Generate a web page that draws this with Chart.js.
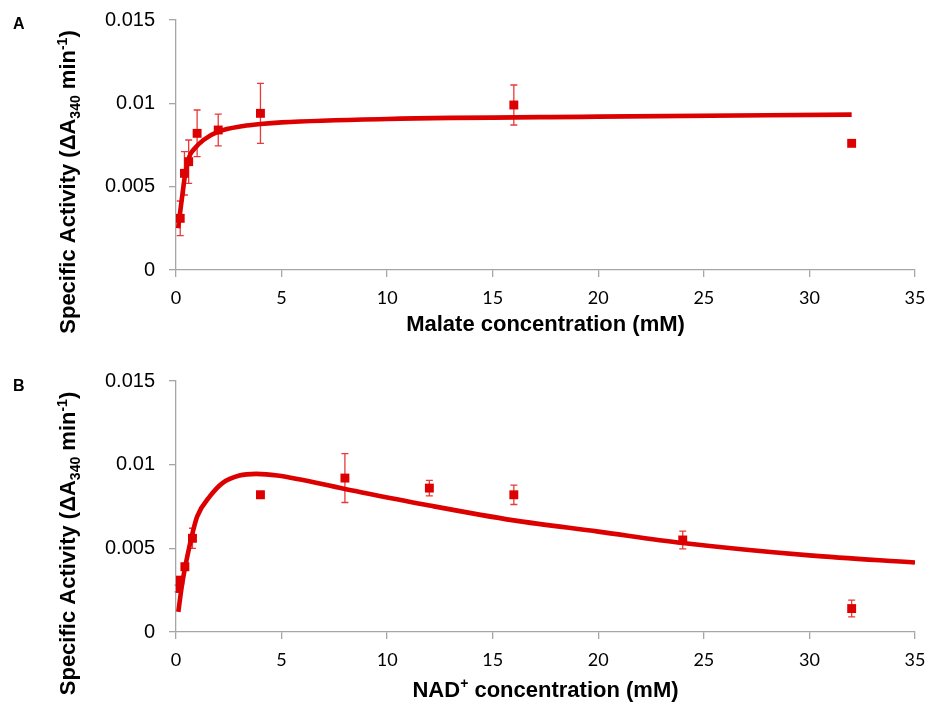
<!DOCTYPE html>
<html>
<head>
<meta charset="utf-8">
<script src="https://cdn.jsdelivr.net/npm/chart.js@4.4.1/dist/chart.umd.min.js"></script>
<style>
  html, body { margin: 0; padding: 0; background: #ffffff; }
  #wrap { position: relative; width: 930px; height: 707px; }
  #chart-a { position: absolute; left: 0; top: 0; }
  #chart-b { position: absolute; left: 0; top: 355px; }
</style>
</head>
<body>
<div id="wrap">
  <canvas id="chart-a" width="930" height="355"></canvas>
  <canvas id="chart-b" width="930" height="352"></canvas>
</div>
<script>
// panel A: malate
var malateConc = [0.2, 0.4, 0.6, 1, 2, 4, 16, 32];
var malateActivity = [0.0031, 0.0058, 0.0065, 0.0082, 0.0084, 0.0094, 0.0099, 0.0076];
var malateError = [0.00104, 0.0013, 0.0013, 0.0014, 0.00095, 0.0018, 0.0012, 0];
var malateFitX = [0.1, 0.27, 0.43, 0.63, 0.82, 1.3, 2, 3.2, 4, 5, 10, 20, 32];
var malateFitY = [0.0025, 0.0042, 0.0057, 0.0068, 0.0072, 0.0078, 0.0083, 0.00864, 0.00876, 0.00886, 0.00906, 0.0092, 0.00932];

// panel B: NAD+
var nadConc = [0.1, 0.18, 0.42, 0.78, 4, 8, 12, 16, 24, 32];
var nadActivity = [0.0026, 0.0031, 0.0039, 0.0056, 0.0082, 0.0092, 0.0086, 0.0082, 0.0055, 0.0014];
var nadError = [0.0002, 0.0002, 0.0002, 0.0006, 0.0002, 0.00146, 0.00046, 0.00058, 0.00053, 0.0005];
var nadFitX = [0.11, 0.27, 0.5, 0.82, 1.0, 1.6, 2.2, 3.0, 3.8, 4.8, 8, 12, 16, 20, 24, 30, 35];
var nadFitY = [0.0012, 0.0027, 0.0043, 0.0061, 0.0069, 0.0081, 0.0089, 0.00935, 0.00945, 0.00935, 0.00855, 0.00756, 0.00667, 0.006, 0.00532, 0.00458, 0.00415];

var xTickValues = [0, 5, 10, 15, 20, 25, 30, 35];
var yTickValues = [0, 0.005, 0.01, 0.015];
var yTickLabels = ["0", "0.005", "0.01", "0.015"];

var RED = "#dd0000";
var ERR = "#e83a3a";
var AXIS = "#a6a6a6";
var TITLE_FONT = "Liberation Sans, Arial, sans-serif";

var yTitleParts = [
  { text: "Specific Activity (\u0394A", size: 22 },
  { text: "340", size: 14, dy: 5 },
  { text: " min", size: 22 },
  { text: "-1", size: 14, dy: -8 },
  { text: ")", size: 22 }
];

function toPoints(xs, ys) {
  return xs.map(function (x, i) { return { x: x, y: ys[i] }; });
}

function drawParts(ctx, parts, cx, baseline) {
  var total = 0;
  parts.forEach(function (p) {
    ctx.font = "bold " + p.size + "px " + TITLE_FONT;
    p.w = ctx.measureText(p.text).width;
    total += p.w;
  });
  var x = cx - total / 2;
  parts.forEach(function (p) {
    ctx.font = "bold " + p.size + "px " + TITLE_FONT;
    ctx.fillText(p.text, x, baseline + (p.dy || 0));
    x += p.w;
  });
}

var decor = {
  id: "decor",
  beforeDatasetsDraw: function (chart, args, opts) {
    var ctx = chart.ctx;
    var xs = chart.scales.x, ys = chart.scales.y;
    ctx.save();
    ctx.strokeStyle = ERR;
    ctx.lineWidth = 1.3;
    opts.xs.forEach(function (xv, i) {
      var e = opts.err[i];
      if (!e) return;
      var px = xs.getPixelForValue(xv);
      var top = ys.getPixelForValue(opts.ys[i] + e);
      var bot = ys.getPixelForValue(opts.ys[i] - e);
      ctx.beginPath();
      ctx.moveTo(px, top); ctx.lineTo(px, bot);
      ctx.moveTo(px - 3.5, top); ctx.lineTo(px + 3.5, top);
      ctx.moveTo(px - 3.5, bot); ctx.lineTo(px + 3.5, bot);
      ctx.stroke();
    });
    ctx.restore();
  },
  afterDraw: function (chart, args, opts) {
    var ctx = chart.ctx;
    var area = chart.chartArea;
    ctx.save();
    ctx.fillStyle = "#000000";
    ctx.textBaseline = "alphabetic";
    ctx.textAlign = "left";
    // panel letter
    ctx.font = "bold 16px " + TITLE_FONT;
    ctx.fillText(opts.letter, 13, opts.letterY);
    // x title
    drawParts(ctx, opts.xTitle, (area.left + area.right) / 2, area.bottom + opts.xTitleGap);
    // y title, rotated
    ctx.translate(75, (area.top + area.bottom) / 2 + 37);
    ctx.rotate(-Math.PI / 2);
    drawParts(ctx, yTitleParts, 0, 0);
    ctx.restore();
  }
};

function makeChart(id, cfg) {
  return new Chart(document.getElementById(id), {
    data: {
      datasets: [{
        type: "scatter",
        data: toPoints(cfg.xs, cfg.ys),
        pointStyle: "rect",
        pointRadius: 6.3,
        pointBorderWidth: 0,
        backgroundColor: RED,
        borderColor: RED,
        showLine: false
      }, {
        type: "line",
        data: toPoints(cfg.fitX, cfg.fitY),
        borderColor: RED,
        borderWidth: 4.6,
        pointRadius: 0,
        fill: false,
        cubicInterpolationMode: "monotone"
      }]
    },
    options: {
      responsive: false,
      animation: false,
      events: [],
      layout: { padding: { top: cfg.top, right: 15, left: 0, bottom: 0 } },
      plugins: {
        legend: { display: false },
        tooltip: { enabled: false },
        decor: {
          xs: cfg.xs, ys: cfg.ys, err: cfg.err,
          letter: cfg.letter, letterY: cfg.letterY,
          xTitle: cfg.xTitle, xTitleGap: cfg.xTitleGap
        }
      },
      scales: {
        x: {
          type: "linear",
          min: 0,
          max: 35,
          afterBuildTicks: function (scale) {
            scale.ticks = xTickValues.map(function (v) { return { value: v }; });
          },
          ticks: {
            color: "#000000",
            font: { family: "Lato, Carlito, sans-serif", size: 18 },
            padding: 10,
            maxRotation: 0,
            callback: function (v) { return String(v); }
          },
          grid: { drawOnChartArea: false, drawTicks: true, tickLength: 7, color: AXIS, lineWidth: 1.3 },
          border: { display: true, color: AXIS, width: 1.3 },
          afterFit: function (scale) {
            scale.height = cfg.xHeight;
            scale.paddingLeft = 0;
            scale.paddingRight = 0;
          }
        },
        y: {
          type: "linear",
          min: 0,
          max: 0.015,
          afterBuildTicks: function (scale) {
            scale.ticks = yTickValues.map(function (v) { return { value: v }; });
          },
          ticks: {
            color: "#000000",
            font: { family: "Liberation Sans, Arial, sans-serif", size: 20 },
            padding: 14,
            callback: function (v) {
              var i = yTickValues.indexOf(v);
              return i >= 0 ? yTickLabels[i] : "";
            }
          },
          grid: { drawOnChartArea: false, drawTicks: true, tickLength: 7, color: AXIS, lineWidth: 1.3 },
          border: { display: true, color: AXIS, width: 1.3 },
          afterFit: function (scale) {
            scale.width = 176;
            scale.paddingTop = 0;
            scale.paddingBottom = 0;
          }
        }
      }
    },
    plugins: [decor]
  });
}

makeChart("chart-a", {
  xs: malateConc, ys: malateActivity, err: malateError,
  fitX: malateFitX, fitY: malateFitY,
  top: 20, xHeight: 85,
  letter: "A", letterY: 29,
  xTitle: [{ text: "Malate concentration (mM)", size: 22 }],
  xTitleGap: 61
});

makeChart("chart-b", {
  xs: nadConc, ys: nadActivity, err: nadError,
  fitX: nadFitX, fitY: nadFitY,
  top: 26, xHeight: 75,
  letter: "B", letterY: 36,
  xTitle: [
    { text: "NAD", size: 22 },
    { text: "+", size: 14, dy: -9 },
    { text: " concentration (mM)", size: 22 }
  ],
  xTitleGap: 65
});
</script>
</body>
</html>
